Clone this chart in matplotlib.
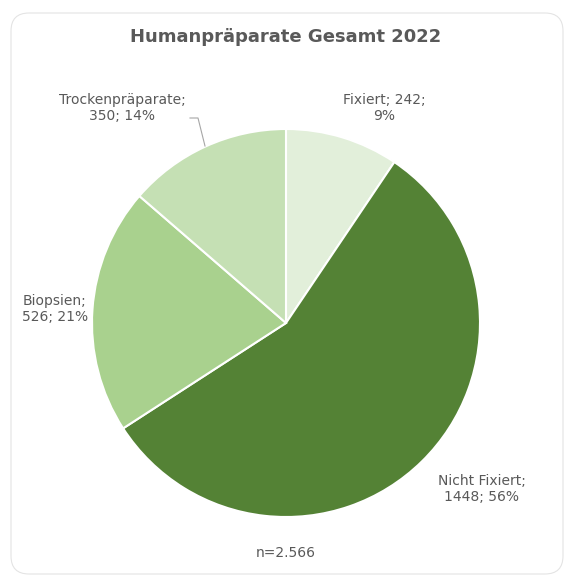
import matplotlib
matplotlib.use("Agg")
import matplotlib.pyplot as plt
from matplotlib.patches import FancyBboxPatch

# Daten
kategorien = ["Fixiert", "Nicht Fixiert", "Biopsien", "Trockenpräparate"]
werte = [242, 1448, 526, 350]
prozent = ["9%", "56%", "21%", "14%"]
farben = ["#E2EFDA", "#548235", "#A9D18E", "#C5E0B4"]

W, H = 574, 579
fig = plt.figure(figsize=(W / 100, H / 100), dpi=100)
ax = fig.add_axes([0, 0, 1, 1])
ax.set_xlim(0, W)
ax.set_ylim(0, H)
ax.set_aspect("equal")
ax.axis("off")

# Rahmen
rahmen = FancyBboxPatch((11, 5), W - 22, H - 18, boxstyle="round,pad=0,rounding_size=18",
                        facecolor="white", edgecolor="#E4E4E4", linewidth=0.8)
ax.add_patch(rahmen)

ax.pie(werte, colors=farben, startangle=90, counterclock=False,
       center=(286, H - 323), radius=194, frame=True,
       wedgeprops=dict(edgecolor="white", linewidth=1.5))
ax.set_xlim(0, W)
ax.set_ylim(0, H)
ax.axis("off")

grau = "#595959"
ax.text(286, H - 37, "Humanpräparate Gesamt 2022", ha="center", va="center",
        fontsize=13, fontweight="bold", color=grau)

label_pos = {
    "Fixiert": (384, 108),
    "Nicht Fixiert": (482, 489),
    "Biopsien": (55, 309),
    "Trockenpräparate": (122, 108),
}
for name, wert, p in zip(kategorien, werte, prozent):
    x, y = label_pos[name]
    if name == "Fixiert":
        txt = f"{name}; {wert};\n{p}"
    else:
        txt = f"{name};\n{wert}; {p}"
    ax.text(x, H - y, txt, ha="center", va="center", fontsize=10, color=grau,
            linespacing=1.25)

# Führungslinie
ax.plot([190, 198, 205], [H - 118, H - 118, H - 146], color="#A6A6A6", linewidth=0.8)

ax.text(286, H - 553, "n=2.566", ha="center", va="center", fontsize=10, color=grau)

fig.savefig("out.png", dpi=100)
